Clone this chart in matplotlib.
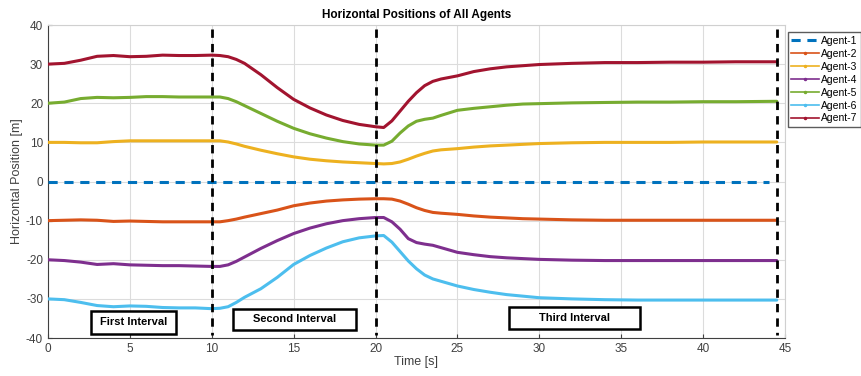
import matplotlib
matplotlib.use("Agg")
from matplotlib import pyplot as plt
from matplotlib.lines import Line2D
from matplotlib.patches import Rectangle

plt.rcParams['font.family'] = ['Liberation Sans', 'DejaVu Sans']
plt.rcParams['axes.unicode_minus'] = False

t = [0, 1, 2, 3, 4, 5, 6, 7, 8, 9, 10, 10.5, 11, 11.5, 12, 13, 14, 15, 16, 17, 18, 19,
     20, 20.5, 21, 21.5, 22, 22.5, 23, 23.5, 24, 25, 26, 27, 28, 29, 30, 32, 34, 36,
     38, 40, 42, 44.5]

agent1 = [0.0] * len(t)
agent2 = [-10.0, -9.9, -9.8, -9.9, -10.2, -10.1, -10.2, -10.3, -10.3, -10.3, -10.3, -10.3,
          -10.0, -9.6, -9.1, -8.2, -7.3, -6.2, -5.5, -5.0, -4.7, -4.5, -4.4, -4.4, -4.5,
          -5.0, -5.8, -6.7, -7.4, -7.9, -8.1, -8.4, -8.8, -9.1, -9.3, -9.5, -9.6, -9.8,
          -9.9, -9.9, -9.9, -9.9, -9.9, -9.9]
agent3 = [10.0, 10.0, 9.9, 9.9, 10.2, 10.4, 10.4, 10.4, 10.4, 10.4, 10.4, 10.4, 10.1, 9.6,
          9.0, 8.0, 7.1, 6.3, 5.7, 5.3, 5.0, 4.8, 4.6, 4.5, 4.6, 5.0, 5.7, 6.5, 7.2, 7.8,
          8.1, 8.4, 8.8, 9.1, 9.3, 9.5, 9.7, 9.9, 10.0, 10.0, 10.0, 10.1, 10.1, 10.1]
agent4 = [-20.0, -20.2, -20.6, -21.2, -21.0, -21.3, -21.4, -21.5, -21.5, -21.6, -21.7, -21.7,
          -21.3, -20.4, -19.3, -17.1, -15.1, -13.3, -11.9, -10.8, -10.0, -9.5, -9.2, -9.2,
          -10.3, -12.2, -14.6, -15.6, -16.0, -16.3, -16.9, -18.1, -18.7, -19.2, -19.5,
          -19.7, -19.9, -20.1, -20.2, -20.2, -20.2, -20.2, -20.2, -20.2]
agent5 = [20.0, 20.3, 21.2, 21.5, 21.4, 21.5, 21.7, 21.7, 21.6, 21.6, 21.6, 21.6, 21.2, 20.4,
          19.4, 17.4, 15.4, 13.6, 12.2, 11.1, 10.2, 9.6, 9.3, 9.3, 10.3, 12.4, 14.2, 15.4,
          15.9, 16.2, 16.9, 18.2, 18.7, 19.1, 19.5, 19.8, 19.9, 20.1, 20.2, 20.3, 20.3,
          20.4, 20.4, 20.5]
agent6 = [-30.0, -30.2, -30.9, -31.7, -32.0, -31.8, -31.9, -32.2, -32.3, -32.3, -32.5, -32.4,
          -32.0, -30.9, -29.6, -27.4, -24.5, -21.2, -18.9, -17.0, -15.4, -14.4, -13.9, -13.8,
          -15.5, -17.9, -20.3, -22.3, -23.9, -24.9, -25.5, -26.7, -27.6, -28.3, -28.9,
          -29.3, -29.7, -30.0, -30.2, -30.3, -30.3, -30.3, -30.3, -30.3]
agent7 = [30.0, 30.2, 31.0, 32.0, 32.2, 31.9, 32.0, 32.3, 32.2, 32.2, 32.3, 32.2, 31.9, 31.2,
          30.2, 27.3, 24.0, 21.0, 18.8, 17.0, 15.6, 14.6, 14.0, 13.8, 15.5, 18.0, 20.5, 22.7,
          24.5, 25.6, 26.2, 27.0, 28.1, 28.8, 29.3, 29.6, 29.9, 30.2, 30.4, 30.4, 30.5,
          30.5, 30.6, 30.6]

labels = ['Agent-1', 'Agent-2', 'Agent-3', 'Agent-4', 'Agent-5', 'Agent-6', 'Agent-7']
colors = ['#0072BD', '#D95319', '#EDB120', '#7E2F8E', '#77AC30', '#4DBEEE', '#A2142F']

interval_times = [10, 20, 44.5]
interval_names = ['First Interval', 'Second Interval', 'Third Interval']

fig = plt.figure(figsize=(8.61, 3.76), dpi=100)
ax = fig.add_axes([0.0557, 0.101, 0.856, 0.8325])

series = [agent1, agent2, agent3, agent4, agent5, agent6, agent7]
handles = []
for i, (y, c, lab) in enumerate(zip(series, colors, labels)):
    if i == 0:
        ax.plot(t[:-1] + [44.0], y, color=c, lw=2.2, ls=(0, (3, 2.2)), zorder=3)
        handles.append(Line2D([], [], color=c, lw=2.2, ls=(0, (3, 2.2)), label=lab))
    else:
        ax.plot(t, y, color=c, lw=2.2, zorder=3, solid_capstyle='round')
        handles.append(Line2D([], [], color=c, lw=1.2, marker='.', markersize=3, label=lab))

for x in interval_times:
    ax.plot([x, x], [39, -39.3], color='black', lw=2.0, ls=(0, (3, 2.2)), zorder=4)

# interval label boxes (data coordinates)
boxes = [(2.62, -38.9, 5.18, 5.8), (11.28, -38.0, 7.55, 5.5), (28.17, -37.6, 7.97, 5.6)]
for (x0, y0, w, h), name in zip(boxes, interval_names):
    ax.add_patch(Rectangle((x0, y0), w, h, facecolor='white', edgecolor='black',
                           lw=1.8, zorder=5))
    ax.text(x0 + w / 2, y0 + h / 2, name, ha='center', va='center', fontsize=8,
            fontweight='bold', zorder=6)

ax.set_xlim(0, 45)
ax.set_ylim(-40, 40)
ax.set_xticks(range(0, 46, 5))
ax.set_yticks(range(-40, 41, 10))
ax.grid(True, color='#dcdcdc', lw=0.8)
ax.set_axisbelow(True)
ax.tick_params(labelsize=8.5, colors='#404040', length=3, direction='in')
for s in ['top', 'right']:
    ax.spines[s].set_color('#d0d0d0')
for s in ['left', 'bottom']:
    ax.spines[s].set_color('#404040')

ax.set_title('Horizontal Positions of All Agents', fontsize=8.5, fontweight='bold', pad=5)
ax.set_xlabel('Time [s]', fontsize=9, color='#404040', labelpad=1)
ax.set_ylabel('Horizontal Position [m]', fontsize=9, color='#404040', labelpad=2)

fig.legend(handles=handles, loc='upper left', bbox_to_anchor=(0.915, 0.914),
           fontsize=7.5, frameon=True, fancybox=False, edgecolor='#333333',
           handlelength=2.6, handletextpad=0.2, labelspacing=0.28, borderpad=0.35,
           borderaxespad=0)

fig.savefig('out.png', dpi=100)
